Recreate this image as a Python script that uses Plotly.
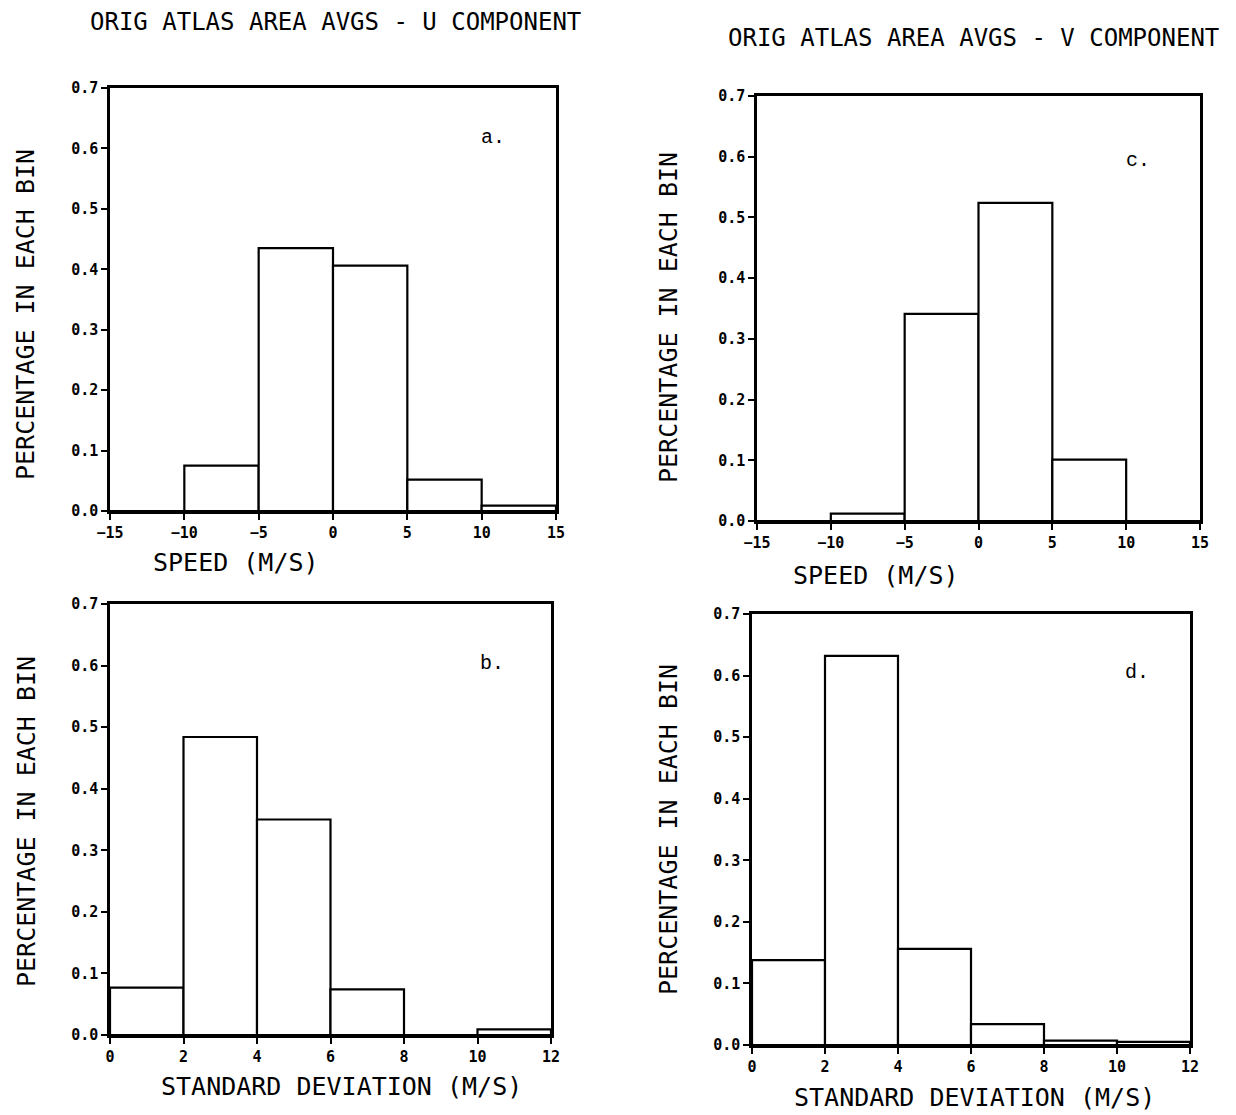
import plotly.graph_objects as go

W, H = 1236, 1115
OFF = 8  # page body offset

# ---- data ----
speed_edges = [-15, -10, -5, 0, 5, 10, 15]
sd_edges = [0, 2, 4, 6, 8, 10, 12]
u_speed = [0.0, 0.075, 0.435, 0.406, 0.052, 0.009]
u_sd = [0.077, 0.484, 0.350, 0.074, 0.0, 0.009]
v_speed = [0.0, 0.012, 0.341, 0.524, 0.101, 0.0]
v_sd = [0.138, 0.632, 0.156, 0.034, 0.007, 0.005]
speed_ticks = [-15, -10, -5, 0, 5, 10, 15]
sd_ticks = [0, 2, 4, 6, 8, 10, 12]
y_ticks = [0.0, 0.1, 0.2, 0.3, 0.4, 0.5, 0.6, 0.7]

FONT = "DejaVu Sans Mono"

def px_x(p):
    return (p - OFF) / W

def px_y(p):
    return 1 - (p - OFF) / H

panels = [
    ("", speed_edges, u_speed, (110, 556), (511, 88), speed_ticks, "a.", (493, 137)),
    ("2", sd_edges, u_sd, (110, 551), (1035, 604), sd_ticks, "b.", (492, 663)),
    ("3", speed_edges, v_speed, (757, 1200), (521, 96), speed_ticks, "c.", (1138, 160)),
    ("4", sd_edges, v_sd, (752, 1190), (1045, 614), sd_ticks, "d.", (1137, 672)),
]

fig = go.Figure()
layout = dict(
    width=W, height=H, margin=dict(l=0, r=0, t=0, b=0, autoexpand=False),
    paper_bgcolor="white", plot_bgcolor="white", showlegend=False,
    font=dict(family=FONT, color="black"),
)
annotations = []
tickfont = dict(family=FONT, size=15, color="black", weight="bold")

for name, edges, vals, xd, yd, ticks, letter, lpos in panels:
    centers = [(edges[i] + edges[i + 1]) / 2 for i in range(len(vals))]
    widths = [edges[i + 1] - edges[i] for i in range(len(vals))]
    fig.add_trace(go.Bar(
        x=centers, y=vals, width=widths,
        marker=dict(color="white", line=dict(color="black", width=2.2)),
        xaxis="x" + name, yaxis="y" + name,
    ))
    xa = dict(
        domain=[px_x(xd[0]), px_x(xd[1])], range=[edges[0], edges[-1]],
        anchor="y" + name, tickvals=ticks, ticks="outside", ticklen=6,
        tickwidth=2, tickcolor="black", showline=True, linecolor="black",
        linewidth=2.5, mirror=True, showgrid=False, zeroline=False,
        tickfont=tickfont, automargin=False,
    )
    ya = dict(
        domain=[px_y(yd[0]), px_y(yd[1])], range=[0, 0.7],
        anchor="x" + name, tickvals=y_ticks, tickformat=".1f", ticks="outside",
        ticklen=6, tickwidth=2, tickcolor="black", showline=True,
        linecolor="black", linewidth=2.5, mirror=True, showgrid=False,
        zeroline=False, tickfont=tickfont, automargin=False,
    )
    layout["xaxis" + name] = xa
    layout["yaxis" + name] = ya
    annotations.append(dict(
        text=letter, x=px_x(lpos[0]), y=px_y(lpos[1]), xref="paper", yref="paper",
        xanchor="center", yanchor="middle", showarrow=False,
        font=dict(family="Liberation Mono", size=20, color="black"),
    ))

texts = [
    ("ORIG ATLAS AREA AVGS - U COMPONENT", 335, 22, 0, 24),
    ("ORIG ATLAS AREA AVGS - V COMPONENT", 973, 38, 0, 24),
    ("SPEED (M/S)", 236, 562, 0, 25),
    ("SPEED (M/S)", 876, 575, 0, 25),
    ("STANDARD DEVIATION (M/S)", 341, 1086, 0, 25),
    ("STANDARD DEVIATION (M/S)", 974, 1097, 0, 25),
    ("PERCENTAGE IN EACH BIN", 26, 315, -90, 25),
    ("PERCENTAGE IN EACH BIN", 26, 822, -90, 25),
    ("PERCENTAGE IN EACH BIN", 668, 318, -90, 25),
    ("PERCENTAGE IN EACH BIN", 668, 830, -90, 25),
]
for t, x, y, ang, sz in texts:
    annotations.append(dict(
        text=t, x=px_x(x), y=px_y(y), xref="paper", yref="paper",
        xanchor="center", yanchor="middle", showarrow=False, textangle=ang,
        font=dict(family=FONT, size=sz, color="black"),
    ))

layout["annotations"] = annotations
fig.update_layout(**layout)
fig.write_html("out.html")
